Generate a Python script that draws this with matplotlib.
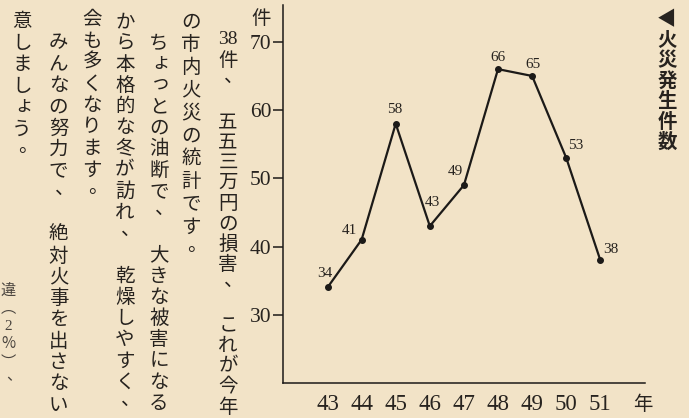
import re
import matplotlib
matplotlib.use('Agg')
import matplotlib.pyplot as plt

# data: fires per year (Showa 43-51)
years = [43, 44, 45, 46, 47, 48, 49, 50, 51]
fires = [34, 41, 58, 43, 49, 66, 65, 53, 38]
y_ticks = [30, 40, 50, 60, 70]

title = "◀火災発生件数"
y_unit = "件"
x_unit = "年"

# article text, columns right -> left
article = [
    "38件、　五五三万円の損害、　これが今年",
    "の市内火災の統計です。",
    "　ちょっとの油断で、　大きな被害になる",
    "から本格的な冬が訪れ、　乾燥しやすく、",
    "会も多くなります。",
    "　みんなの努力で、　絶対火事を出さない",
    "意しましょう。",
]
cut_column = "違︵2%︶、"

W, H = 689, 418
PAPER = '#f2e3c7'
INK = '#27231f'
JP = ['Noto Sans CJK JP', 'DejaVu Sans']
SERIF = 'Liberation Serif'

fig = plt.figure(figsize=(W / 100, H / 100), dpi=100, facecolor=PAPER)


def vcol(text, x, y0, step, size=14, color=INK, weight='normal'):
    # draw one vertical column; positions in image pixels
    for i, tok in enumerate(re.findall(r'\d+|.', text)):
        if tok == '　':
            continue
        dx, dy = 0, 0
        fam = JP
        if tok in '、。':
            dx, dy = 6, -4
        elif tok in 'ょっゃゅ':
            dx, dy = 2, -2
        elif tok.isdigit():
            fam = SERIF
        fig.text((x + dx) / W, 1 - (y0 + i * step + dy) / H, tok,
                 family=fam, fontsize=size, color=color, weight=weight,
                 ha='center', va='center')


# column layout: x, first row y, pitch
col_layout = [(228, 40, 20.4), (191, 21.7, 22.8), (159, 21.8, 21.2),
              (125, 21.7, 21.2), (92, 19.5, 21.5), (58.5, 21.7, 21.3),
              (22, 21.7, 21.5)]
for text, (cx, cy, st) in zip(article, col_layout):
    vcol(text, cx, cy, st)
vcol(cut_column, 8, 290, 18, size=11, color='#4a443e')

# title on the right
vcol(title, 667, 20, 20.4, size=14, weight='bold')

# chart
ax = fig.add_axes([283 / W, 1 - 383 / H, (645 - 283) / W, (383 - 5) / H])
ax.set_facecolor(PAPER)
ax.plot(years, fires, color='#1c1a18', lw=1.6, marker='o', ms=4,
        mec='#1c1a18', mfc='#1c1a18', zorder=3)

label_offsets = [(-3, 14), (-12, 9), (-1, 14), (3, 24), (-9, 14),
                 (0, 12), (1, 11), (9, 12), (10, 11)]
for x, v, (dx, dy) in zip(years, fires, label_offsets):
    ax.annotate(str(v), (x, v), xytext=(dx, dy), textcoords='offset pixels',
                ha='center', va='center', family=SERIF, fontsize=11, color=INK)

ax.set_xlim(41.695, 52.31)
ax.set_ylim(20, 75.4)
ax.set_xticks(years)
ax.set_xticklabels([str(y) for y in years], family=SERIF, fontsize=16.5, color=INK)
ax.set_yticks(y_ticks)
ax.set_yticklabels([str(t) for t in y_ticks], family=SERIF, fontsize=15.5, color=INK)
ax.tick_params(axis='x', length=0, pad=8)
ax.tick_params(axis='y', length=7.5, width=1.1, pad=1, color='#1c1a18')

for s in ['top', 'right']:
    ax.spines[s].set_visible(False)
for s in ['left', 'bottom']:
    ax.spines[s].set_linewidth(1.1)
    ax.spines[s].set_color('#1c1a18')

fig.text(261.5 / W, 1 - 18.5 / H, y_unit, family=JP, fontsize=14, color=INK,
         ha='center', va='center')
fig.text(643 / W, 1 - 405 / H, x_unit, family=JP, fontsize=14, color=INK,
         ha='center', va='center')

fig.savefig('out.png', dpi=100, facecolor=PAPER)
